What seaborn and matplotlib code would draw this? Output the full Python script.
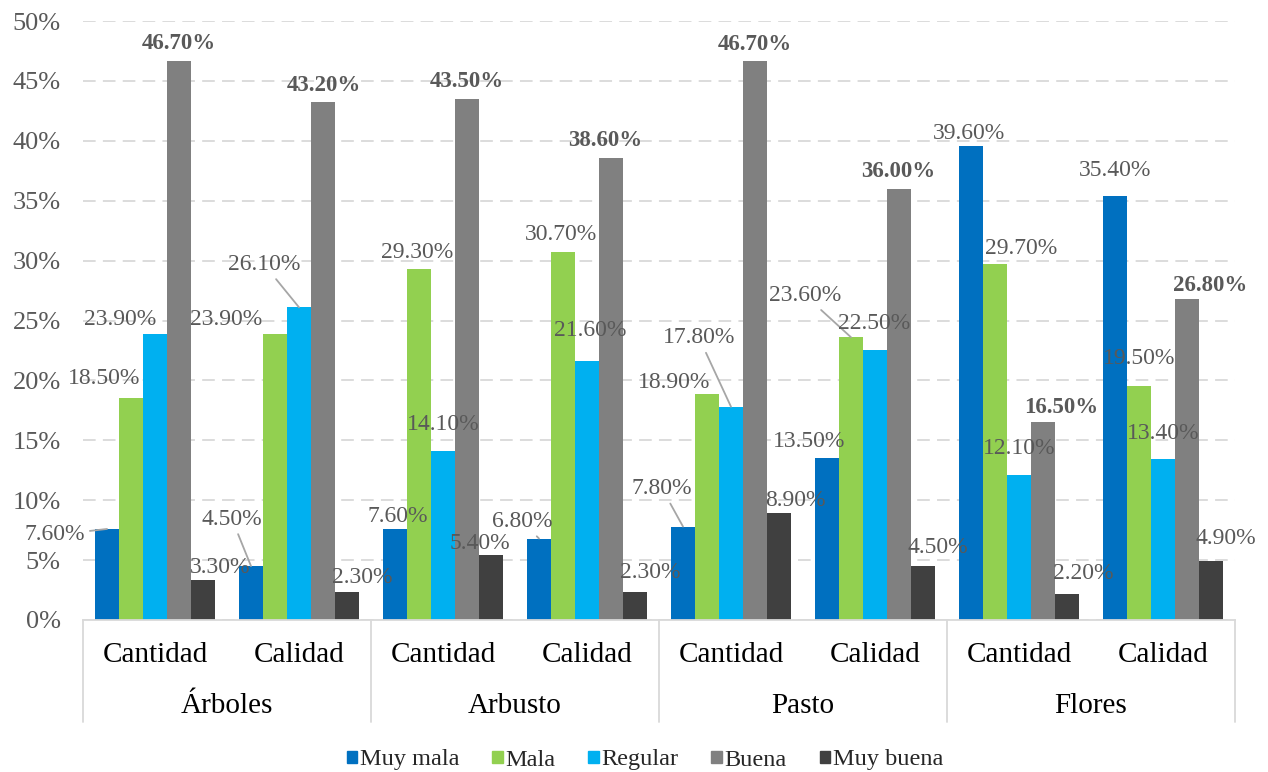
import pandas as pd
import matplotlib
matplotlib.use("Agg")
import matplotlib.pyplot as plt
import seaborn as sns
from matplotlib.lines import Line2D

# data
groups = ["Árboles", "Arbusto", "Pasto", "Flores"]
subgroups = ["Cantidad", "Calidad"]
levels = ["Muy mala", "Mala", "Regular", "Buena", "Muy buena"]

muy_mala = [7.6, 4.5, 7.6, 6.8, 7.8, 13.5, 39.6, 35.4]
mala = [18.5, 23.9, 29.3, 30.7, 18.9, 23.6, 29.7, 19.5]
regular = [23.9, 26.1, 14.1, 21.6, 17.8, 22.5, 12.1, 13.4]
buena = [46.7, 43.2, 43.5, 38.6, 46.7, 36.0, 16.5, 26.8]
muy_buena = [3.3, 2.3, 5.4, 2.3, 8.9, 4.5, 2.2, 4.9]

colors = ["#0070C0", "#92D050", "#00B0F0", "#808080", "#404040"]

slots = [g + "|" + s for g in groups for s in subgroups]
series = [muy_mala, mala, regular, buena, muy_buena]
rows = []
for lev, vals in zip(levels, series):
    for slot, v in zip(slots, vals):
        rows.append({"slot": slot, "level": lev, "value": v})
df = pd.DataFrame(rows)

# label offsets in pixels (dx, dy) from top centre of each bar, per level
offsets = [
    [(-52, -6), (-19, 47), (3, 12), (-17, 17), (-21, 38), (-18, 17), (-2, 12), (0, 25)],
    [(-27, 20), (-49, 14), (-2, 16), (-2, 18), (-33, 11), (-46, 42), (26, 16), (0, 28)],
    [(-35, 14), (-35, 43), (0, 27), (3, 31), (-32, 69), (-1, 27), (0, 27), (0, 26)],
    [(0, 17), (1, 17), (0, 17), (-6, 17), (0, 16), (-1, 17), (18, 15), (23, 13)],
    [(17, 13), (15, 15), (-11, 12), (15, 20), (16, 13), (15, 19), (16, 20), (15, 23)],
]
leaders = {(0, 0), (0, 1), (2, 1), (0, 3), (0, 4), (2, 4), (1, 5)}

sns.set_style("white")
plt.rcParams["font.family"] = ["Liberation Serif", "DejaVu Serif"]

fig = plt.figure(figsize=(12.68, 7.72), dpi=100)
ax = fig.add_axes([83 / 1268, 1 - 620 / 772, 1152 / 1268, 599 / 772])

sns.barplot(data=df, x="slot", y="value", hue="level", order=slots,
            hue_order=levels, palette=colors, saturation=1, width=0.8333,
            linewidth=0, errorbar=None, ax=ax)

ax.set_ylim(0, 50)
ax.set_xlim(-0.5, 7.5)
ax.set_yticks(range(0, 51, 5))
ax.set_yticklabels([f"{t}%" for t in range(0, 51, 5)], fontsize=19, color="#595959")
ax.tick_params(axis="y", length=0, pad=16)
ax.set_xticks([])
ax.set_xlabel("")
ax.set_ylabel("")
ax.set_axisbelow(True)
ax.yaxis.grid(True, color="#D9D9D9", lw=1.3, dashes=(7, 4))
for side in ["left", "right", "top"]:
    ax.spines[side].set_visible(False)
ax.spines["bottom"].set_color("#D9D9D9")
ax.spines["bottom"].set_linewidth(1.3)

# value labels
for k, cont in enumerate(ax.containers):
    for i, bar in enumerate(cont):
        x = bar.get_x() + bar.get_width() / 2
        h = bar.get_height()
        dx, dy = offsets[k][i]
        bold = levels[k] == "Buena"
        arrow = None
        if (k, i) in leaders:
            arrow = dict(arrowstyle="-", color="#A6A6A6", lw=1.3, shrinkA=1, shrinkB=0)
        ax.annotate(f"{h:.2f}%", xy=(x, h), xytext=(dx, dy), textcoords="offset pixels",
                    ha="center", va="center", fontsize=16.5 if bold else 17,
                    color="#595959", fontweight="bold" if bold else "normal",
                    arrowprops=arrow, annotation_clip=False)

# multi-level category axis
trans = ax.get_xaxis_transform()
for i, slot in enumerate(slots):
    ax.text(i, -0.058, slot.split("|")[1], transform=trans, ha="center", va="center",
            fontsize=21, color="black")
for j, g in enumerate(groups):
    ax.text(2 * j + 0.5, -0.143, g, transform=trans, ha="center", va="center",
            fontsize=21, color="black")
for xs in [-0.5, 1.5, 3.5, 5.5, 7.5]:
    ax.add_line(Line2D([xs, xs], [0, -0.17], transform=trans, color="#D9D9D9",
                       lw=1.3, clip_on=False))

ax.legend_.remove()
handles = [plt.Rectangle((0, 0), 1, 1, color=c) for c in colors]
fig.legend(handles, levels, loc="center", bbox_to_anchor=(645 / 1268, 1 - 760 / 772),
           ncol=5, frameon=False, fontsize=17.5, handlelength=0.42, handleheight=0.42,
           handletextpad=0.12, columnspacing=1.35)

fig.savefig("out.png", dpi=100)
